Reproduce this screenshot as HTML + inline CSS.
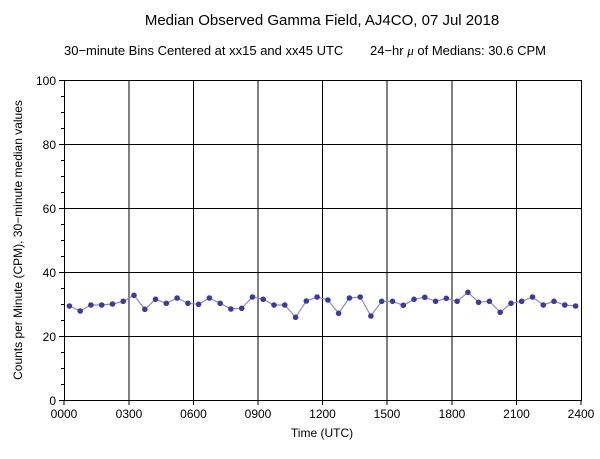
<!DOCTYPE html>
<html><head><style>body{margin:0;background:#fff}svg{display:block}</style></head><body>
<svg width="600" height="459" xmlns="http://www.w3.org/2000/svg" font-family="Liberation Sans, sans-serif">
<rect width="600" height="459" fill="#fff"/>
<text x="322" y="25" font-size="15" text-anchor="middle">Median Observed Gamma Field, AJ4CO, 07 Jul 2018</text>
<text x="64" y="55" font-size="13">30−minute Bins Centered at xx15 and xx45 UTC</text>
<text x="370" y="55" font-size="13">24−hr <tspan font-style="italic" font-family="Liberation Serif, serif">μ</tspan> of Medians: 30.6 CPM</text>
<g stroke="#000" stroke-width="1">
<rect x="64.5" y="80.5" width="517" height="320" fill="none"/>
<path d="M64 144.5H581M64 208.5H581M64 272.5H581M64 336.5H581"/>
<path d="M129 80V400M193.5 80V400M258 80V400M322.5 80V400M387 80V400M452 80V400M516.5 80V400"/>
<path d="M64 400V405M129 400V405M193.5 400V405M258 400V405M322.5 400V405M387 400V405M452 400V405M516.5 400V405M581 400V405"/>
<path d="M59 80.5H64M59 144.5H64M59 208.5H64M59 272.5H64M59 336.5H64M59 400.5H64"/>
<path d="M61 96.5H64M61 112.5H64M61 128.5H64M61 160.5H64M61 176.5H64M61 192.5H64M61 224.5H64M61 240.5H64M61 256.5H64M61 288.5H64M61 304.5H64M61 320.5H64M61 352.5H64M61 368.5H64M61 384.5H64"/>
</g>
<g font-size="12" text-anchor="end">
<text x="56" y="85">100</text><text x="56" y="149">80</text><text x="56" y="213">60</text><text x="56" y="277">40</text><text x="56" y="341">20</text><text x="56" y="405">0</text>
</g>
<g font-size="12" text-anchor="middle">
<text x="64" y="418">0000</text><text x="129" y="418">0300</text><text x="193.5" y="418">0600</text><text x="258" y="418">0900</text><text x="322.5" y="418">1200</text><text x="387" y="418">1500</text><text x="452" y="418">1800</text><text x="516.5" y="418">2100</text><text x="581" y="418">2400</text>
</g>
<text x="322" y="437" font-size="12" text-anchor="middle">Time (UTC)</text>
<text transform="translate(22,240) rotate(-90)" font-size="12" text-anchor="middle">Counts per Minute (CPM), 30−minute median values</text>
<path fill="none" stroke="#8c8cc8" stroke-width="1.2" d="M69.4 306L80.2 311L90.9 305L101.7 305L112.5 304L123.2 301.3L134 295.3L144.8 309.3L155.5 299.3L166.3 303.3L177.1 298L187.9 303.3L198.6 304.3L209.4 298L220.2 303.3L230.9 309L241.7 308.3L252.5 297L263.2 299.3L274 305L284.8 305L295.6 317.3L306.3 301L317.1 297L327.9 300L338.6 313.3L349.4 298L360.2 297L370.9 316L381.7 301.3L392.5 301.3L403.3 305.3L414 299.3L424.8 297.3L435.6 301.3L446.3 298.3L457.1 301.3L467.9 292.3L478.6 302.3L489.4 301.3L500.2 312.3L511 303.3L521.7 301.3L532.5 297L543.3 305L554 301.3L564.8 305L575.6 306"/>
<g fill="#3b3b9c">
<circle cx="69.4" cy="306" r="2.8"/><circle cx="80.2" cy="311" r="2.8"/><circle cx="90.9" cy="305" r="2.8"/><circle cx="101.7" cy="305" r="2.8"/><circle cx="112.5" cy="304" r="2.8"/><circle cx="123.2" cy="301.3" r="2.8"/><circle cx="134" cy="295.3" r="2.8"/><circle cx="144.8" cy="309.3" r="2.8"/><circle cx="155.5" cy="299.3" r="2.8"/><circle cx="166.3" cy="303.3" r="2.8"/><circle cx="177.1" cy="298" r="2.8"/><circle cx="187.9" cy="303.3" r="2.8"/><circle cx="198.6" cy="304.3" r="2.8"/><circle cx="209.4" cy="298" r="2.8"/><circle cx="220.2" cy="303.3" r="2.8"/><circle cx="230.9" cy="309" r="2.8"/><circle cx="241.7" cy="308.3" r="2.8"/><circle cx="252.5" cy="297" r="2.8"/><circle cx="263.2" cy="299.3" r="2.8"/><circle cx="274" cy="305" r="2.8"/><circle cx="284.8" cy="305" r="2.8"/><circle cx="295.6" cy="317.3" r="2.8"/><circle cx="306.3" cy="301" r="2.8"/><circle cx="317.1" cy="297" r="2.8"/><circle cx="327.9" cy="300" r="2.8"/><circle cx="338.6" cy="313.3" r="2.8"/><circle cx="349.4" cy="298" r="2.8"/><circle cx="360.2" cy="297" r="2.8"/><circle cx="370.9" cy="316" r="2.8"/><circle cx="381.7" cy="301.3" r="2.8"/><circle cx="392.5" cy="301.3" r="2.8"/><circle cx="403.3" cy="305.3" r="2.8"/><circle cx="414" cy="299.3" r="2.8"/><circle cx="424.8" cy="297.3" r="2.8"/><circle cx="435.6" cy="301.3" r="2.8"/><circle cx="446.3" cy="298.3" r="2.8"/><circle cx="457.1" cy="301.3" r="2.8"/><circle cx="467.9" cy="292.3" r="2.8"/><circle cx="478.6" cy="302.3" r="2.8"/><circle cx="489.4" cy="301.3" r="2.8"/><circle cx="500.2" cy="312.3" r="2.8"/><circle cx="511" cy="303.3" r="2.8"/><circle cx="521.7" cy="301.3" r="2.8"/><circle cx="532.5" cy="297" r="2.8"/><circle cx="543.3" cy="305" r="2.8"/><circle cx="554" cy="301.3" r="2.8"/><circle cx="564.8" cy="305" r="2.8"/><circle cx="575.6" cy="306" r="2.8"/>
</g>
</svg>
</body></html>
